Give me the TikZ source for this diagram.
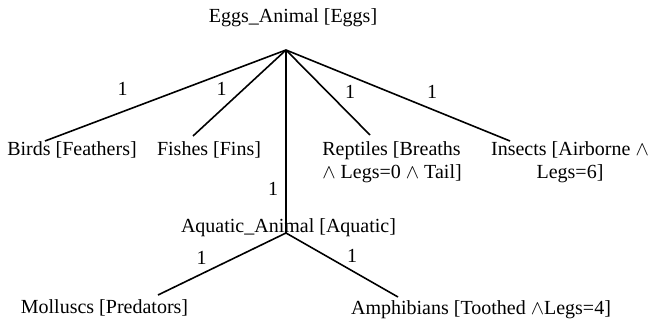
\documentclass[tikz,border=0pt]{standalone}
\usepackage{fontspec}
\setmainfont{Liberation Serif}
\usepackage{amsmath}
\usepackage{amssymb}
\usepackage{tikz}
\usetikzlibrary{positioning,calc}

\begin{document}
\begin{tikzpicture}[x=0.5pt, y=-0.5pt, font=\fontsize{10}{11.5}\selectfont,
  every node/.style={inner sep=0pt}, branch/.style={line width=0.8pt}]
  \useasboundingbox (0,0) rectangle (649,321);

  % classes
  \node[anchor=base] (eggs) at (293,22.7) {Eggs\_Animal [Eggs]};
  \node[anchor=base] (birds) at (72,155.5) {Birds [Feathers]};
  \node[anchor=base] (fishes) at (209,155.5) {Fishes [Fins]};
  \node[anchor=north west, align=left] (reptiles) at (322,141.5) {Reptiles [Breaths\\$\wedge$ Legs=0 $\wedge$ Tail]};
  \node[anchor=north, align=center] (insects) at (570,141.5) {Insects [Airborne $\wedge$\\Legs=6]};
  \node[anchor=base] (aquatic) at (288.5,232) {Aquatic\_Animal [Aquatic]};
  \node[anchor=base] (molluscs) at (104.5,313.5) {Molluscs [Predators]};
  \node[anchor=base] (amphibians) at (481,314.5) {Amphibians [Toothed $\wedge$Legs=4]};

  % branch points
  \coordinate (top) at (286,50);
  \coordinate (aqtop) at (286,233);
  \coordinate (birdsin) at (45,141);
  \coordinate (fishesin) at (193,136);
  \coordinate (reptilesin) at (370,135);
  \coordinate (insectsin) at (510,141);
  \coordinate (molluscsin) at (158,295);
  \coordinate (amphibiansin) at (398,297);

  \draw[branch] (top) -- (birdsin);
  \draw[branch] (top) -- (fishesin);
  \draw[branch] (top) -- (aqtop);
  \draw[branch] (top) -- (reptilesin);
  \draw[branch] (top) -- (insectsin);
  \draw[branch] (aqtop) -- (molluscsin);
  \draw[branch] (aqtop) -- (amphibiansin);

  % weights
  \node[anchor=base] (wbirds) at (122.7,96) {1};
  \node[anchor=base] (wfishes) at (221.7,96) {1};
  \node[anchor=base] (wreptiles) at (350,98) {1};
  \node[anchor=base] (winsects) at (432,98) {1};
  \node[anchor=base] (waquatic) at (273,195) {1};
  \node[anchor=base] (wmolluscs) at (201.7,264) {1};
  \node[anchor=base] (wamphibians) at (352,262) {1};
\end{tikzpicture}
\end{document}
